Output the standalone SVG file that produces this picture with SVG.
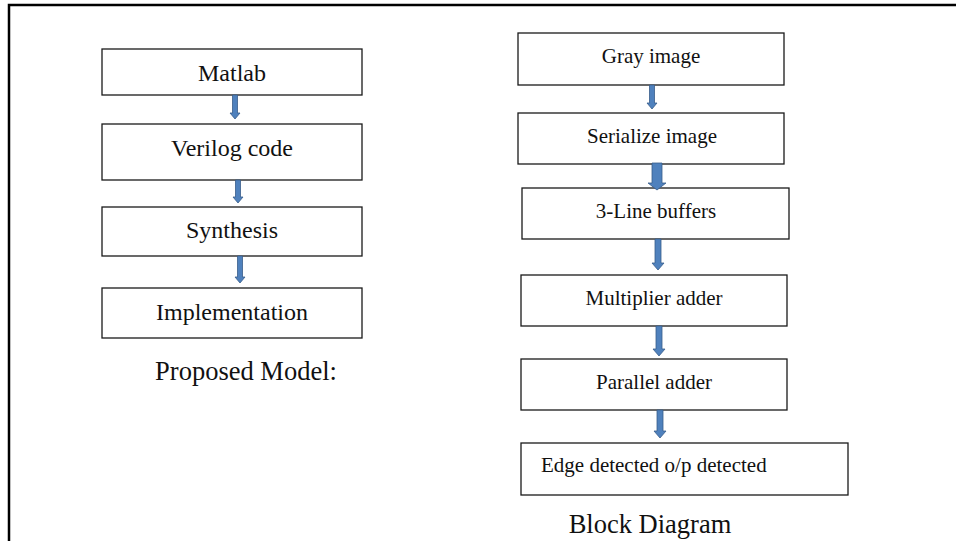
<svg xmlns="http://www.w3.org/2000/svg" width="956" height="541" viewBox="0 0 956 541">
  <style>
    .box { fill: #ffffff; stroke: #1a1a1a; stroke-width: 1.3; }
    .lbl { font-family: "Liberation Serif", "Times New Roman", serif; fill: #111111; }
    .big { font-size: 24px; text-anchor: middle; }
    .mid { font-size: 21px; text-anchor: middle; }
    .cap { font-size: 26.5px; text-anchor: middle; }
    .arrow { fill: #4f81bd; stroke: #385d8a; stroke-width: 0.8; }
  </style>
  <rect width="956" height="541" fill="#ffffff"/>

  <!-- page frame -->
  <path d="M9,541 V5 H956" fill="none" stroke="#000000" stroke-width="2.5"/>

  <!-- proposed model flow -->
  <g id="matlab"><rect class="box" x="102" y="49" width="260" height="46"/><text class="lbl big" x="232" y="81">Matlab</text></g>
  <g id="verilog"><rect class="box" x="102" y="124" width="260" height="56"/><text class="lbl big" x="232" y="156">Verilog code</text></g>
  <g id="synthesis"><rect class="box" x="102" y="207" width="260" height="49"/><text class="lbl big" x="232" y="238">Synthesis</text></g>
  <g id="implementation"><rect class="box" x="102" y="288" width="260" height="50"/><text class="lbl big" x="232" y="320">Implementation</text></g>
  <g id="proposed-caption"><text class="lbl cap" x="246" y="380">Proposed Model:</text></g>

  <!-- block diagram flow -->
  <g id="gray"><rect class="box" x="518" y="33" width="266" height="52"/><text class="lbl mid" x="651" y="63">Gray image</text></g>
  <g id="serialize"><rect class="box" x="518" y="113" width="266" height="51"/><text class="lbl mid" x="652" y="143">Serialize image</text></g>
  <g id="linebuf"><rect class="box" x="522" y="188" width="267" height="51"/><text class="lbl mid" x="656" y="218">3-Line buffers</text></g>
  <g id="multiplier"><rect class="box" x="521" y="275" width="266" height="51"/><text class="lbl mid" x="654" y="305">Multiplier adder</text></g>
  <g id="parallel"><rect class="box" x="521" y="359" width="266" height="51"/><text class="lbl mid" x="654" y="389">Parallel adder</text></g>
  <g id="edge"><rect class="box" x="521" y="443" width="327" height="52"/><text class="lbl" font-size="21" x="541" y="472">Edge detected o/p detected</text></g>
  <g id="block-caption"><text class="lbl cap" x="650" y="533">Block Diagram</text></g>

  <!-- block arrows -->
  <g id="connectors">
    <path class="arrow" d="M232.5,95 h5 v18 h2.5 l-5,6 l-5,-6 h2.5 z"/>
    <path class="arrow" d="M235.5,180 h5 v17 h2.5 l-5,6 l-5,-6 h2.5 z"/>
    <path class="arrow" d="M237.5,256 h5 v21 h2.5 l-5,6 l-5,-6 h2.5 z"/>

    <path class="arrow" d="M649.5,85 h5 v18 h2.5 l-5,6 l-5,-6 h2.5 z"/>
    <path class="arrow" d="M652,163 h10 v20 h4 l-9,7 l-9,-7 h4 z"/>
    <path class="arrow" d="M655,239 h6 v24 h3 l-6,7 l-6,-7 h3 z"/>
    <path class="arrow" d="M656,326 h6 v23 h3 l-6,7 l-6,-7 h3 z"/>
    <path class="arrow" d="M657,410 h6 v21 h3 l-6,7 l-6,-7 h3 z"/>
  </g>
</svg>
